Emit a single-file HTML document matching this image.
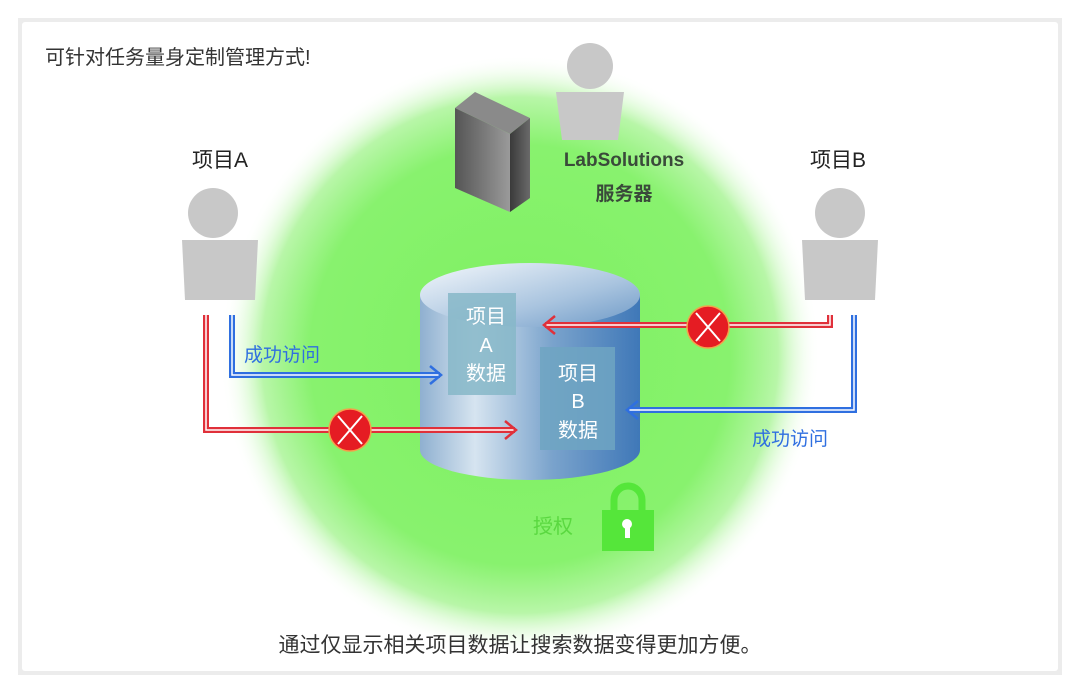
<!DOCTYPE html>
<html><head><meta charset="utf-8"><style>
html,body{margin:0;padding:0;background:#fff}
svg{display:block}
text{font-family:"Liberation Sans","Noto Sans CJK SC",sans-serif}
</style></head><body>
<svg width="1080" height="693" viewBox="0 0 1080 693" xmlns="http://www.w3.org/2000/svg">
<defs>
<radialGradient id="glow" cx="520" cy="355" r="300" gradientUnits="userSpaceOnUse">
<stop offset="0" stop-color="#7ef060"/>
<stop offset="0.7" stop-color="#88f26e"/>
<stop offset="0.86" stop-color="#b8f6a8"/>
<stop offset="1" stop-color="#ffffff" stop-opacity="0"/>
</radialGradient>
<linearGradient id="cyl" x1="0" x2="1" y1="0" y2="0">
<stop offset="0" stop-color="#8fb0d0"/>
<stop offset="0.25" stop-color="#d6e4f0"/>
<stop offset="0.6" stop-color="#7aa3cc"/>
<stop offset="1" stop-color="#3f78b8"/>
</linearGradient>
<linearGradient id="cyltop" x1="0" x2="1" y1="0" y2="1">
<stop offset="0" stop-color="#f4f8fc"/>
<stop offset="0.6" stop-color="#a9c4df"/>
<stop offset="1" stop-color="#6c98c6"/>
</linearGradient>
<linearGradient id="srvL" x1="0" x2="1"><stop offset="0" stop-color="#555"/><stop offset="1" stop-color="#9a9a9a"/></linearGradient>
<linearGradient id="srvR" x1="0" x2="1"><stop offset="0" stop-color="#3a3a3a"/><stop offset="1" stop-color="#6a6a6a"/></linearGradient>
</defs>
<rect x="18" y="18" width="1044" height="657" fill="#ececec"/>
<rect x="22" y="22" width="1036" height="649" fill="#fff" rx="3"/>
<ellipse cx="520" cy="355" rx="300" ry="300" fill="url(#glow)"/>
<text x="45" y="64" font-size="20" fill="#333">可针对任务量身定制管理方式!</text>
<!-- top person -->
<circle cx="590" cy="66" r="23" fill="#c8c8c8"/>
<path d="M556 92 H624 L618 140 H562 Z" fill="#c8c8c8"/>
<!-- server -->
<polygon points="455,108 475,92 530,118 510,134" fill="#8a8a8a"/>
<polygon points="455,108 510,134 510,212 455,188" fill="url(#srvL)"/>
<polygon points="510,134 530,118 530,198 510,212" fill="url(#srvR)"/>
<text x="624" y="166" font-size="19" font-weight="bold" fill="#3a4a3a" text-anchor="middle">LabSolutions</text>
<text x="624" y="200" font-size="19" font-weight="bold" fill="#3a4a3a" text-anchor="middle">服务器</text>
<text x="220" y="167" font-size="21" fill="#222" text-anchor="middle">项目A</text>
<text x="838" y="167" font-size="21" fill="#222" text-anchor="middle">项目B</text>
<!-- side persons -->
<circle cx="213" cy="213" r="25" fill="#c8c8c8"/>
<path d="M182 240 H258 L255 300 H185 Z" fill="#c8c8c8"/>
<circle cx="840" cy="213" r="25" fill="#c8c8c8"/>
<path d="M802 240 H878 L875 300 H805 Z" fill="#c8c8c8"/>
<!-- cylinder -->
<path d="M420 295 V450 A110 30 0 0 0 640 450 V295 Z" fill="url(#cyl)"/>
<ellipse cx="530" cy="295" rx="110" ry="32" fill="url(#cyltop)"/>
<rect x="448" y="293" width="68" height="102" fill="#86b7c8" opacity="0.85"/>
<rect x="540" y="347" width="75" height="103" fill="#6ea5c2" opacity="0.85"/>
<g font-size="20" fill="#fff" text-anchor="middle">
<text x="486" y="323">项目</text><text x="486" y="352">A</text><text x="486" y="380">数据</text>
<text x="578" y="380">项目</text><text x="578" y="408">B</text><text x="578" y="437">数据</text>
</g>
<!-- lines -->
<g fill="none" stroke-linejoin="miter">
<path d="M206 315 V430 H515" stroke="#e0303a" stroke-width="6"/>
<path d="M206 315 V430 H515" stroke="#fff" stroke-width="1.5"/>
<path d="M505 421 L516 430 L505 439" stroke="#e0303a" stroke-width="2.5"/>
<path d="M232 315 V375 H440" stroke="#2f6fe0" stroke-width="6"/>
<path d="M232 315 V375 H440" stroke="#fff" stroke-width="1.5"/>
<path d="M430 366 L441 375 L430 384" stroke="#2f6fe0" stroke-width="2.5"/>
<path d="M830 315 V325 H545" stroke="#e0303a" stroke-width="6"/>
<path d="M830 315 V325 H545" stroke="#fff" stroke-width="1.5"/>
<path d="M555 316 L544 325 L555 334" stroke="#e0303a" stroke-width="2.5"/>
<path d="M854 315 V410 H628" stroke="#2f6fe0" stroke-width="6"/>
<path d="M854 315 V410 H628" stroke="#fff" stroke-width="1.5"/>
<path d="M638 401 L627 410 L638 419" stroke="#2f6fe0" stroke-width="2.5"/>
</g>
<g>
<circle cx="350" cy="430" r="21" fill="#e51c23" stroke="#f5a04a" stroke-width="1.5"/>
<path d="M338 416 L362 444 M362 416 L338 444" stroke="#fff" stroke-width="2"/>
<circle cx="708" cy="327" r="21" fill="#e51c23" stroke="#f5a04a" stroke-width="1.5"/>
<path d="M696 313 L720 341 M720 313 L696 341" stroke="#fff" stroke-width="2"/>
</g>
<text x="244" y="361" font-size="19" fill="#2f6fe0">成功访问</text>
<text x="752" y="445" font-size="19" fill="#2f6fe0">成功访问</text>
<!-- lock -->
<path d="M614 512 V500 A14 14 0 0 1 642 500 V512" fill="none" stroke="#55e63a" stroke-width="7"/>
<rect x="602" y="510" width="52" height="41" fill="#55e63a"/>
<circle cx="627" cy="524" r="5" fill="#fff"/>
<rect x="625" y="524" width="5" height="14" fill="#fff"/>
<text x="533" y="533" font-size="20" fill="#5ad840">授权</text>
<text x="520" y="652" font-size="21" fill="#333" text-anchor="middle">通过仅显示相关项目数据让搜索数据变得更加方便。</text>
</svg>
</body></html>
